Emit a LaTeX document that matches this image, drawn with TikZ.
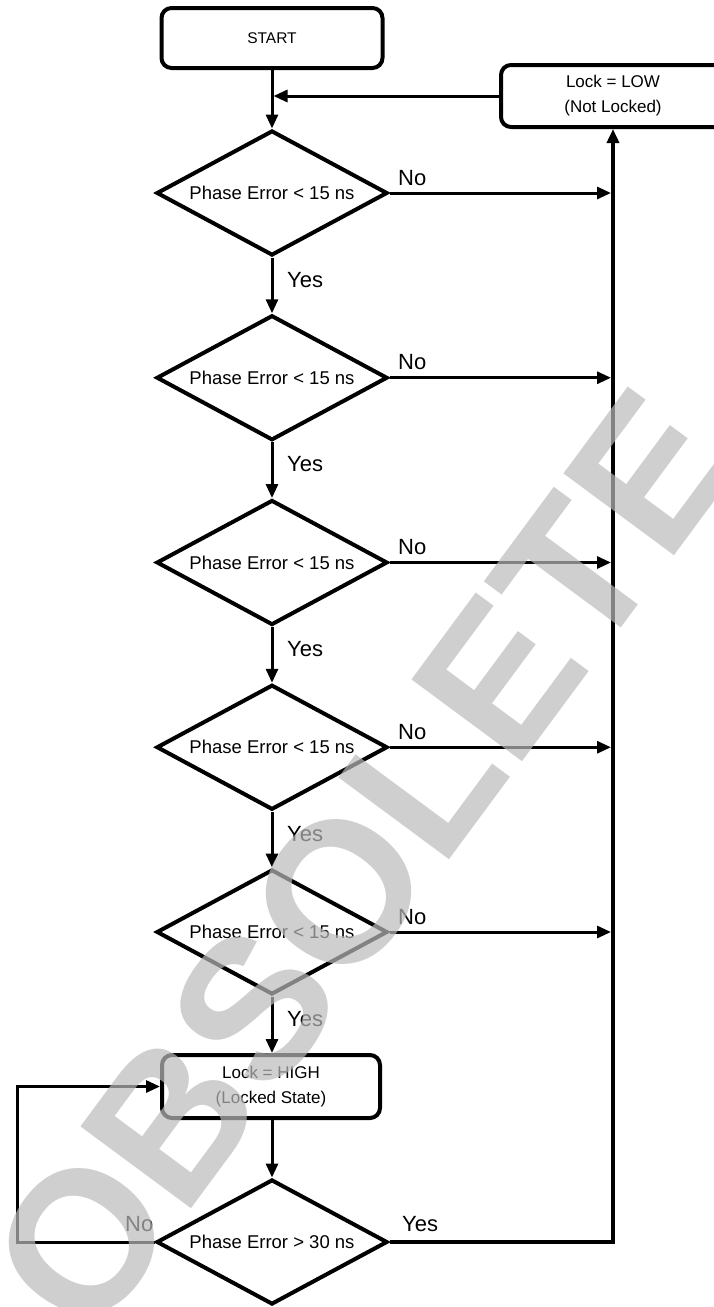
\documentclass[tikz,border=0pt]{standalone}
\usepackage{fontspec}
\setmainfont{Liberation Sans}
\usetikzlibrary{shapes.geometric,arrows.meta}
\begin{document}
\begin{tikzpicture}[x=1pt,y=-1pt,
  box/.style={draw, line width=4pt, rounded corners=10pt, align=center, inner sep=0pt, font=\fontsize{17}{25}\selectfont},
  dia/.style={draw, diamond, line width=4pt, minimum width=231pt, minimum height=125pt, inner sep=0pt, aspect=1.85, font=\fontsize{18.5}{20}\selectfont},
  conn/.style={line width=3pt},
  arr/.style={conn, -{Triangle[length=14pt,width=12pt]}},
  lbl/.style={font=\fontsize{22}{24}\selectfont, inner sep=0pt, anchor=base west},
]
\useasboundingbox (0,0) rectangle (713,1307);
\coordinate (bus) at (613,0);
\coordinate (loopx) at (17,0);

\node[box, minimum width=221pt, minimum height=60pt, font=\fontsize{15.5}{18}\selectfont] (start) at (272,38) {START};
\node[box, minimum width=224pt, minimum height=62pt] (low) at (613,96) {Lock = LOW\\(Not Locked)};

\node[dia] (d1) at (272,193) {Phase Error < 15 ns};
\node[dia] (d2) at (272,377.75) {Phase Error < 15 ns};
\node[dia] (d3) at (272,562.5) {Phase Error < 15 ns};
\node[dia] (d4) at (272,747.25) {Phase Error < 15 ns};
\node[dia] (d5) at (272,932) {Phase Error < 15 ns};

\node[box, minimum width=218pt, minimum height=63pt] (high) at (271,1086.5) {Lock = HIGH\\(Locked State)};
\node[dia] (d6) at (272,1242) {Phase Error > 30 ns};

% main column
\draw[arr] (start.south -| d1.north) -- (d1.north);
\draw[arr] (d1.south) -- (d2.north);
\draw[arr] (d2.south) -- (d3.north);
\draw[arr] (d3.south) -- (d4.north);
\draw[arr] (d4.south) -- (d5.north);
\draw[arr] (d5.south) -- (d5.south |- high.north);
\draw[arr] (high.south -| d6.north) -- (d6.north);

% return from Lock = LOW
\draw[arr] (low.west) -- ([xshift=1.5pt]low.west -| d1.north);

% No branches to bus
\foreach \d in {d1,d2,d3,d4,d5}{
  \draw[arr] (\d.east) -- ([xshift=-2pt]\d.east -| bus);
}
% Yes from last decision up to Lock = LOW
\draw[line width=4pt, -{Triangle[length=14pt,width=12pt]}] (d6.east) -| (low.south);

% No loop back to Lock = HIGH
\draw[arr] (d6.west) -- (d6.west -| loopx) |- (high.west);

% labels
\foreach \d in {d1,d2,d3,d4,d5}{
  \node[lbl] at ([xshift=126pt,yshift=8pt]\d.center) {No};
  \node[lbl] at ([xshift=15pt,yshift=-94pt]\d.center) {Yes};
}
\node[lbl] (no6) at (125,1231) {No};
\node[lbl] (yes6) at (402,1231) {Yes};

% watermark
\node[rotate=53.5, font=\fontsize{200}{200}\selectfont\bfseries, text=black!27, text opacity=0.7, inner sep=0pt] (wm) at (363,861) {OBSOLETE};
\end{tikzpicture}
\end{document}
